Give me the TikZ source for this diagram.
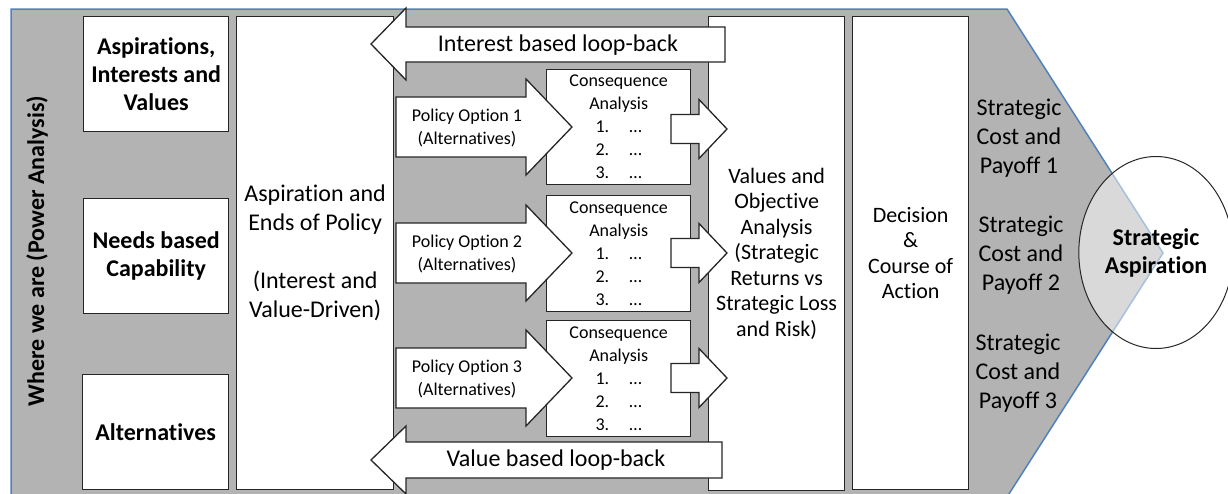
\documentclass[tikz,border=0pt]{standalone}
\usepackage{fontspec}
\setmainfont{Carlito}[Ligatures=NoCommon]
\usetikzlibrary{shapes.geometric}

\definecolor{chevronblue}{RGB}{79,129,189}
\definecolor{panelgray}{RGB}{179,179,179}

\begin{document}
\begin{tikzpicture}[x=1pt,y=-1pt,
    box/.style={draw=black!85, line width=1.3pt, fill=white, anchor=north west, inner sep=2pt},
    barrow/.style={draw=black!85, line width=1.3pt, fill=white, line join=miter},
    headtxt/.style={font=\fontsize{24}{28}\selectfont\bfseries, align=center},
    bigtxt/.style={font=\fontsize{24}{29}\selectfont, align=center},
    midtxt/.style={font=\fontsize{22}{25.5}\selectfont, align=center},
    smalltxt/.style={font=\fontsize{18}{23}\selectfont, align=center}]
            \useasboundingbox (0,0) rectangle (1228,493);
            % chevron background
            \fill[panelgray] (11,9) -- (1007,9) -- (1163,253) -- (1007,497) -- (11,497) -- cycle;
            \draw[chevronblue, line width=1.5pt] (11,497) -- (11,9) -- (1007,9) -- (1163,253) -- (1007,497);
            \node[rotate=90, headtxt] (where) at (37,251) {Where we are (Power Analysis)};
            % left column
            \node[box, headtxt, minimum width=145, minimum height=115] (aiv) at (83,16) {Aspirations,\\Interests and\\Values};
            \node[box, headtxt, minimum width=145, minimum height=115] (need) at (83,198) {Needs based\\Capability};
            \node[box, headtxt, minimum width=146, minimum height=115] (alt) at (82,374) {Alternatives};
            \node[box, bigtxt, minimum width=157, minimum height=473] (ends) at (236,16) {Aspiration and\\Ends of Policy\\[29pt](Interest and\\Value-Driven)};
            % consequence boxes
            \node[box, smalltxt, minimum width=144, minimum height=115] (cons1) at (546,69) {Consequence\\Analysis\\1.\hspace{20pt}…\\2.\hspace{20pt}…\\3.\hspace{20pt}…};
            \node[box, smalltxt, minimum width=144, minimum height=116] (cons2) at (546,195) {Consequence\\Analysis\\1.\hspace{20pt}…\\2.\hspace{20pt}…\\3.\hspace{20pt}…};
            \node[box, smalltxt, minimum width=144, minimum height=116] (cons3) at (546,320) {Consequence\\Analysis\\1.\hspace{20pt}…\\2.\hspace{20pt}…\\3.\hspace{20pt}…};
            % right columns
            \node[box, midtxt, minimum width=136, minimum height=474] (values) at (708,16) {Values and\\Objective\\Analysis\\(Strategic\\Returns vs\\Strategic Loss\\and Risk)};
            \node[box, midtxt, minimum width=116, minimum height=473] (decide) at (852,16) {Decision\\\&\\Course of\\Action};
            % loop-back arrows
            \draw[barrow] (725,27) -- (406,27) -- (406,8) -- (371,44) -- (406,80) -- (406,62) -- (725,62) -- cycle;
            \draw[barrow] (722,442) -- (406,442) -- (406,426) -- (371,460) -- (406,494) -- (406,478) -- (722,478) -- cycle;
            \node[bigtxt] (intback) at (558,45) {Interest based loop-back};
            \node[bigtxt] (valback) at (556,460) {Value based loop-back};
            % policy option arrows
            \draw[barrow] (396,97) -- (526,97) -- (526,79) -- (572,127) -- (526,175) -- (526,157) -- (396,157) -- cycle;
            \draw[barrow] (396,223) -- (526,223) -- (526,205) -- (572,253) -- (526,301) -- (526,283) -- (396,283) -- cycle;
            \draw[barrow] (396,348) -- (526,348) -- (526,330) -- (572,378) -- (526,426) -- (526,408) -- (396,408) -- cycle;
            \node[smalltxt] (opt1) at (467,128) {Policy Option 1\\(Alternatives)};
            \node[smalltxt] (opt2) at (467,254) {Policy Option 2\\(Alternatives)};
            \node[smalltxt] (opt3) at (467,379) {Policy Option 3\\(Alternatives)};
            % consequence to values arrows
            \draw[barrow] (671,114.5) -- (699,114.5) -- (699,99.5) -- (727,129) -- (699,158.5) -- (699,143.5) -- (671,143.5) -- cycle;
            \draw[barrow] (671,238.5) -- (699,238.5) -- (699,223.5) -- (727,253) -- (699,282.5) -- (699,267.5) -- (671,267.5) -- cycle;
            \draw[barrow] (671,363.5) -- (699,363.5) -- (699,348.5) -- (727,378) -- (699,407.5) -- (699,392.5) -- (671,392.5) -- cycle;
            % payoffs
            \node[bigtxt] (pay1) at (1019,138) {Strategic\\Cost and\\Payoff 1};
            \node[bigtxt] (pay2) at (1021,255) {Strategic\\Cost and\\Payoff 2};
            \node[bigtxt] (pay3) at (1018,373) {Strategic\\Cost and\\Payoff 3};
            \node[ellipse, draw=black!85, line width=1pt, fill=white, fill opacity=0.5, text opacity=1,
                  minimum width=146, minimum height=192, headtxt] (aspire) at (1156,252.5) {Strategic\\Aspiration};
        \end{tikzpicture}
\end{document}
